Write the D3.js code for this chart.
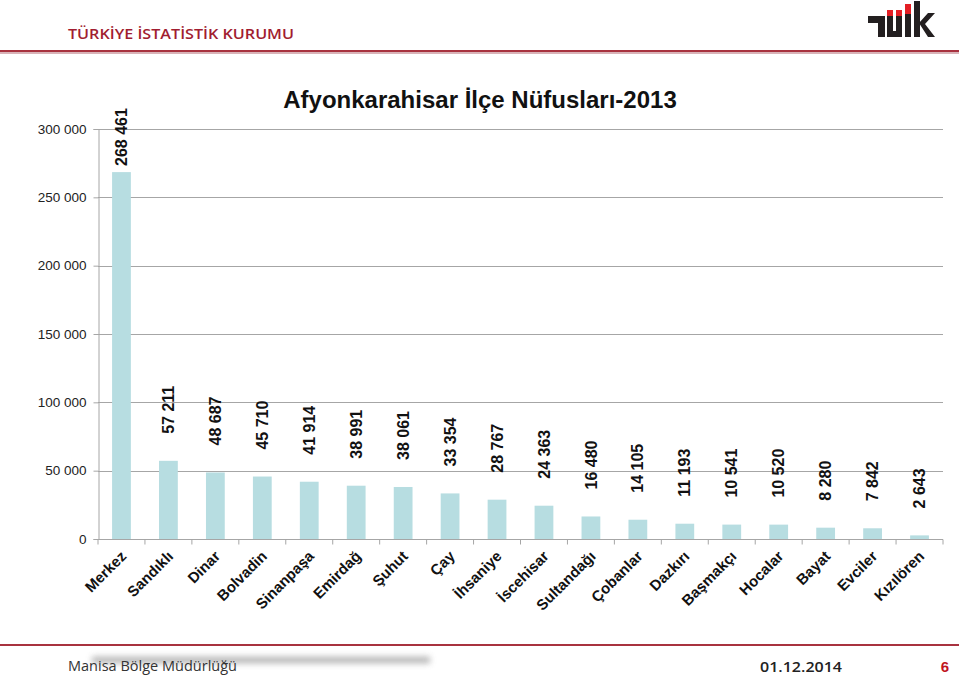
<!DOCTYPE html>
<html><head><meta charset="utf-8">
<script src="https://cdn.jsdelivr.net/npm/d3@7/dist/d3.min.js"></script>
<style>body{margin:0;background:#fff}svg{display:block}</style>
</head><body>
<svg id="c" width="959" height="676"></svg>
<script>
const categories = ["Merkez","Sandıklı","Dinar","Bolvadin","Sinanpaşa","Emirdağ","Şuhut","Çay","İhsaniye","İscehisar","Sultandağı","Çobanlar","Dazkırı","Başmakçı","Hocalar","Bayat","Evciler","Kızılören"];
const population = [268461,57211,48687,45710,41914,38991,38061,33354,28767,24363,16480,14105,11193,10541,10520,8280,7842,2643];
const yTicks = [0,50000,100000,150000,200000,250000,300000];
const title = "Afyonkarahisar İlçe Nüfusları-2013";
const header = "TÜRKİYE İSTATİSTİK KURUMU";
const footerLeft = "Manisa Bölge Müdürlüğü";
const footerDate = "01.12.2014";
const pageNo = "6";

const svg = d3.select("#c");
const loc = d3.formatLocale({decimal:",",thousands:" ",grouping:[3],currency:["",""]});
const fmt = loc.format(",d");

const m = {l:98, r:943, t:129, b:539};
const x = d3.scaleBand().domain(categories).range([m.l,m.r]).paddingInner(0.6).paddingOuter(0.3);
const y = d3.scaleLinear().domain([0,300000]).range([m.b,m.t]);

// header
const defs = svg.append("defs");
const blur = defs.append("filter").attr("id","bl").attr("x","-10%").attr("y","-200%").attr("width","120%").attr("height","500%");
blur.append("feGaussianBlur").attr("stdDeviation","3");
svg.append("text").attr("x",68).attr("y",39).attr("fill","#a11d30")
  .attr("font-family","'Open Sans',sans-serif").attr("font-weight",600).attr("font-size",15)
  .attr("textLength",226).attr("lengthAdjust","spacingAndGlyphs").text(header);
svg.append("rect").attr("x",0).attr("y",50).attr("width",959).attr("height",2).attr("fill","#a8323f");
svg.append("rect").attr("x",0).attr("y",52).attr("width",959).attr("height",2).attr("fill","#d9b3b8");
// logo
const lg = svg.append("g");
const k="#231f20", r="#e31e24";
lg.append("rect").attr("x",868).attr("y",16).attr("width",17).attr("height",7).attr("fill",k);
lg.append("rect").attr("x",878).attr("y",16).attr("width",7).attr("height",21).attr("fill",k);
lg.append("rect").attr("x",887).attr("y",16).attr("width",6).attr("height",21).attr("fill",k);
lg.append("rect").attr("x",896).attr("y",16).attr("width",6).attr("height",21).attr("fill",k);
lg.append("rect").attr("x",887).attr("y",31).attr("width",15).attr("height",6).attr("fill",k);
lg.append("rect").attr("x",887).attr("y",10).attr("width",6).attr("height",6).attr("fill",r);
lg.append("rect").attr("x",896).attr("y",10).attr("width",6).attr("height",6).attr("fill",r);
lg.append("rect").attr("x",905).attr("y",14).attr("width",6).attr("height",23).attr("fill",k);
lg.append("rect").attr("x",905).attr("y",4).attr("width",6).attr("height",10).attr("fill",r);
lg.append("rect").attr("x",914).attr("y",1).attr("width",6).attr("height",36).attr("fill",k);
lg.append("path").attr("d","M919,23 L928,13 L935,13 L925,24 L935,37 L928,37 Z").attr("fill",k);

// title
svg.append("text").attr("x",480).attr("y",108).attr("text-anchor","middle")
  .attr("font-family","Arial,'Liberation Sans',sans-serif").attr("font-weight","bold").attr("font-size",24)
  .attr("fill","#111").text(title);

// grid
svg.append("g").selectAll("line").data(yTicks).join("line")
  .attr("x1",m.l).attr("x2",m.r).attr("y1",d=>Math.round(y(d))+0.5).attr("y2",d=>Math.round(y(d))+0.5)
  .attr("stroke","#a6a6a6").attr("stroke-width",1);

// y axis
const ya = svg.append("g").attr("transform",`translate(${m.l+0.5},0)`)
  .call(d3.axisLeft(y).tickValues(yTicks).tickFormat(fmt).tickSize(5).tickPadding(7));
ya.select(".domain").attr("stroke","#a6a6a6");
ya.selectAll(".tick line").attr("stroke","#a6a6a6");
ya.selectAll("text").attr("font-family","Arial,'Liberation Sans',sans-serif").attr("font-size",13.5).attr("fill","#222");

// bars
svg.append("g").selectAll("rect").data(population).join("rect")
  .attr("x",(d,i)=>x(categories[i])).attr("width",x.bandwidth())
  .attr("y",d=>y(d)).attr("height",d=>y(0)-y(d)).attr("fill","#b7dde1");

// x axis
const step = x.step();
const xa = svg.append("g").attr("transform",`translate(0,${m.b+0.5})`);
xa.append("line").attr("x1",m.l).attr("x2",m.r).attr("stroke","#a6a6a6");
xa.selectAll("line.t").data(d3.range(categories.length+1)).join("line").attr("class","t")
  .attr("x1",i=>m.l+i*step).attr("x2",i=>m.l+i*step).attr("y1",0).attr("y2",5).attr("stroke","#a6a6a6");
xa.selectAll("text").data(categories).join("text")
  .attr("transform",d=>`translate(${x(d)+x.bandwidth()/2+2},${14}) rotate(-45)`)
  .attr("text-anchor","end").attr("dy","0.35em")
  .attr("font-family","Arial,'Liberation Sans',sans-serif").attr("font-weight","bold").attr("font-size",15)
  .attr("fill","#111").text(d=>d);

// value labels
svg.append("g").selectAll("text").data(population).join("text")
  .attr("transform",(d,i)=>{
    const cx = x(categories[i])+x.bandwidth()/2;
    const len = fmt(d).length*8.5;
    let bottom = y(d)-27;
    if (bottom - len < 110) bottom = 166;
    return `translate(${cx},${bottom}) rotate(-90)`;
  })
  .attr("dy","0.35em").attr("text-anchor","start")
  .attr("font-family","Arial,'Liberation Sans',sans-serif").attr("font-weight","bold").attr("font-size",16)
  .attr("fill","#111").text(d=>fmt(d));

// footer
svg.append("rect").attr("x",0).attr("y",644).attr("width",959).attr("height",2).attr("fill","#a8323f");
svg.append("rect").attr("x",92).attr("y",657).attr("width",338).attr("height",6).attr("fill","#9a9a9a").attr("filter","url(#bl)").attr("opacity",0.8);
svg.append("text").attr("x",68).attr("y",671).attr("fill","#333")
  .attr("font-family","'Open Sans',sans-serif").attr("font-size",14)
  .attr("textLength",169).attr("lengthAdjust","spacingAndGlyphs").text(footerLeft);
svg.append("text").attr("x",760).attr("y",672).attr("fill","#222")
  .attr("font-family","'Open Sans',sans-serif").attr("font-weight",600).attr("font-size",14)
  .attr("textLength",82).attr("lengthAdjust","spacingAndGlyphs").text(footerDate);
svg.append("text").attr("x",945).attr("y",672).attr("fill","#c0141e").attr("text-anchor","middle")
  .attr("font-family","Arial,sans-serif").attr("font-weight","bold").attr("font-size",15).text(pageNo);
</script>
</body></html>
